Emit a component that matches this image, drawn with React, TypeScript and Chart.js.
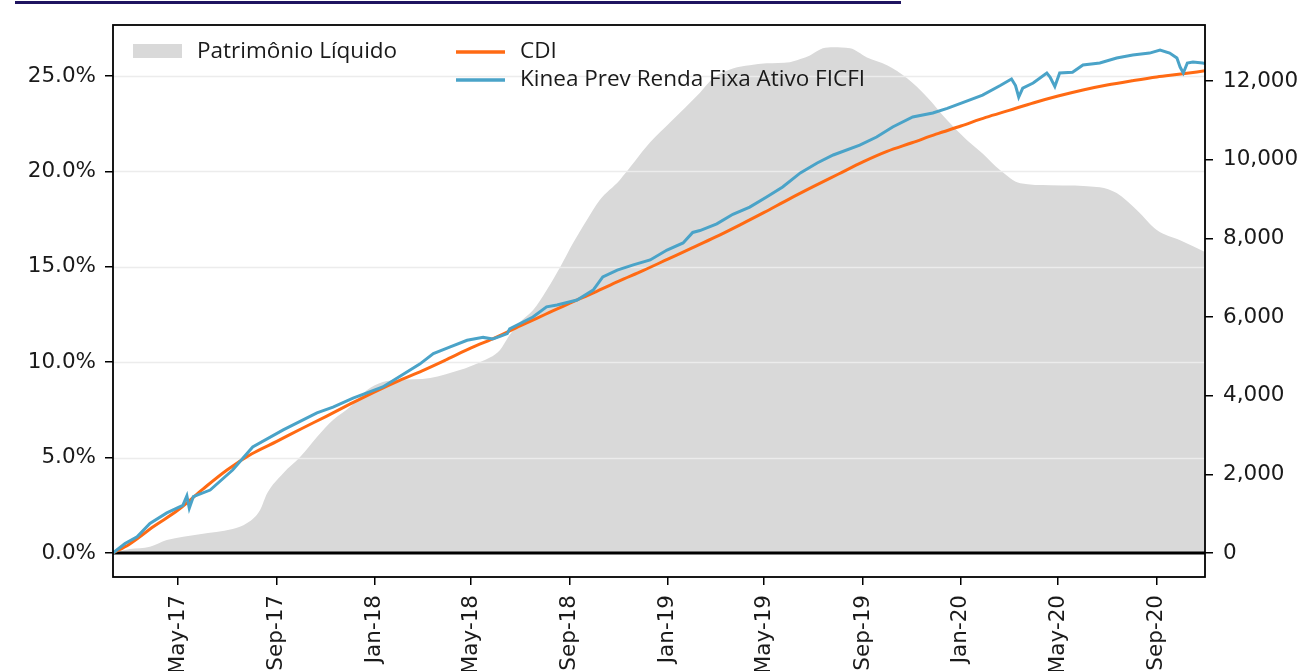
import React, { useEffect, useRef } from 'react';
import { Chart, registerables } from 'chart.js';

Chart.register(...registerables);

// ---------- data ----------
const plDates = [
  '2017-02-09', '2017-03-02', '2017-03-27', '2017-04-17', '2017-05-28', '2017-07-08', '2017-07-26',
  '2017-08-11', '2017-08-20', '2017-09-09', '2017-09-30', '2017-10-21', '2017-11-10', '2017-12-01',
  '2017-12-22', '2018-01-11', '2018-02-01', '2018-03-11', '2018-04-17', '2018-05-12', '2018-06-06',
  '2018-06-18', '2018-07-01', '2018-07-17', '2018-08-03', '2018-08-20', '2018-09-05', '2018-09-22',
  '2018-10-08', '2018-11-02', '2018-12-10', '2019-01-04', '2019-02-10', '2019-02-27', '2019-03-23',
  '2019-04-13', '2019-05-04', '2019-06-02', '2019-06-15', '2019-06-27', '2019-07-13', '2019-07-26',
  '2019-08-16', '2019-09-06', '2019-10-01', '2019-10-26', '2019-11-20', '2019-12-15', '2020-01-09',
  '2020-01-28', '2020-02-19', '2020-03-15', '2020-04-21', '2020-06-22', '2020-07-13', '2020-08-07',
  '2020-09-01', '2020-09-30', '2020-10-31',
];
const plValues = [
  0, 100, 160, 330, 480, 610, 760,
  1090, 1520, 2030, 2440, 2950, 3380, 3710,
  4140, 4350, 4400, 4450, 4650, 4850, 5160,
  5540, 5870, 6170, 6680, 7270, 7880, 8460,
  8970, 9480, 10440, 10950, 11700, 12080, 12320,
  12400, 12450, 12480, 12560, 12650, 12830, 12860,
  12830, 12600, 12400, 12070, 11590, 11000, 10490,
  10160, 9730, 9400, 9350, 9300, 9150, 8720,
  8210, 7950, 7650,
];

const cdiDates = [
  '2017-02-09', '2017-03-01', '2017-04-01', '2017-05-01', '2017-06-01', '2017-07-01', '2017-08-01',
  '2017-09-01', '2017-10-01', '2017-11-01', '2017-12-01', '2018-01-01', '2018-02-01', '2018-03-01',
  '2018-04-01', '2018-05-01', '2018-06-01', '2018-07-01', '2018-08-01', '2018-09-01', '2018-10-01',
  '2018-11-01', '2018-12-01', '2019-01-01', '2019-02-01', '2019-03-01', '2019-04-01', '2019-05-01',
  '2019-06-01', '2019-07-01', '2019-08-01', '2019-09-01', '2019-10-01', '2019-11-01', '2019-12-01',
  '2020-01-01', '2020-02-01', '2020-03-01', '2020-04-01', '2020-05-01', '2020-06-01', '2020-07-01',
  '2020-08-01', '2020-09-01', '2020-10-01', '2020-10-31',
];
const cdiValues = [
  0, 0.45, 1.4, 2.25, 3.35, 4.35, 5.2,
  5.85, 6.5, 7.15, 7.8, 8.45, 9.05, 9.55,
  10.15, 10.75, 11.3, 11.9, 12.5, 13.1, 13.65,
  14.25, 14.8, 15.4, 16.0, 16.55, 17.2, 17.85,
  18.55, 19.2, 19.85, 20.5, 21.05, 21.5, 21.95,
  22.38, 22.83, 23.2, 23.6, 23.95, 24.27, 24.53,
  24.75, 24.95, 25.1, 25.27,
];

const fundDates = [
  '2017-02-09', '2017-02-24', '2017-03-11', '2017-03-27', '2017-04-17', '2017-05-07', '2017-05-12',
  '2017-05-15', '2017-05-20', '2017-06-10', '2017-07-08', '2017-07-21', '2017-08-02', '2017-09-09',
  '2017-10-21', '2017-11-10', '2017-12-05', '2018-01-11', '2018-02-01', '2018-02-26', '2018-03-15',
  '2018-04-05', '2018-04-26', '2018-05-16', '2018-05-28', '2018-06-06', '2018-06-15', '2018-06-18',
  '2018-07-17', '2018-08-03', '2018-08-16', '2018-09-10', '2018-09-30', '2018-10-12', '2018-10-30',
  '2018-11-19', '2018-12-10', '2018-12-31', '2019-01-20', '2019-02-01', '2019-02-10', '2019-03-03',
  '2019-03-23', '2019-04-13', '2019-05-04', '2019-05-24', '2019-06-15', '2019-07-06', '2019-07-26',
  '2019-08-28', '2019-09-18', '2019-10-08', '2019-11-02', '2019-11-27', '2019-12-15', '2020-01-09',
  '2020-01-28', '2020-02-19', '2020-03-04', '2020-03-09', '2020-03-13', '2020-03-18', '2020-03-31',
  '2020-04-17', '2020-04-21', '2020-04-27', '2020-05-03', '2020-05-19', '2020-06-01', '2020-06-22',
  '2020-07-13', '2020-08-02', '2020-08-23', '2020-09-05', '2020-09-17', '2020-09-26', '2020-09-30',
  '2020-10-04', '2020-10-09', '2020-10-16', '2020-10-28', '2020-10-31',
];
const fundValues = [
  0.0, 0.5, 0.85, 1.55, 2.1, 2.5, 3.0,
  2.35, 2.95, 3.3, 4.35, 4.98, 5.56, 6.45,
  7.34, 7.65, 8.12, 8.7, 9.25, 9.9, 10.45,
  10.8, 11.15, 11.3, 11.22, 11.35, 11.5, 11.75,
  12.37, 12.9, 13.0, 13.26, 13.78, 14.47, 14.83,
  15.1, 15.36, 15.88, 16.25, 16.8, 16.9, 17.25,
  17.75, 18.13, 18.66, 19.18, 19.92, 20.44, 20.86,
  21.38, 21.8, 22.33, 22.85, 23.06, 23.3, 23.7,
  24.0, 24.5, 24.84, 24.5, 23.9, 24.37, 24.63,
  25.16, 24.95, 24.45, 25.16, 25.2, 25.58, 25.68,
  25.94, 26.1, 26.2, 26.36, 26.2, 25.94, 25.47,
  25.16, 25.68, 25.73, 25.68, 25.65,
];

const xTickDates = [
  '2017-05-01', '2017-09-01', '2018-01-01', '2018-05-01', '2018-09-01', '2019-01-01',
  '2019-05-01', '2019-09-01', '2020-01-01', '2020-05-01', '2020-09-01',
];
const xTickLabels = [
  'May-17', 'Sep-17', 'Jan-18', 'May-18', 'Sep-18', 'Jan-19',
  'May-19', 'Sep-19', 'Jan-20', 'May-20', 'Sep-20',
];
const leftTicks = [0, 5, 10, 15, 20, 25];
const rightTicks = [0, 2000, 4000, 6000, 8000, 10000, 12000];

const xStart = '2017-02-09';
const xEnd = '2020-10-31';

const legendLabels = ['Patrimônio Líquido', 'CDI', 'Kinea Prev Renda Fixa Ativo FICFI'];

// ---------- styles ----------
const GRAY = '#d9d9d9';
const ORANGE = '#ff6a13';
const BLUE = '#4aa3c8';
const TICK_FONT = { family: '"DejaVu Sans", sans-serif', size: 21.5 };
const TEXT = '#1a1a1a';

const toDay = (s: string) => {
  const [y, m, d] = s.split('-').map(Number);
  return Date.UTC(y, m - 1, d) / 86400000;
};

const gridPlugin = {
  id: 'gridAndZero',
  afterDatasetDraw(chart: any, args: any) {
    if (args.index !== 2) return;
    const { ctx, chartArea } = chart;
    const y = chart.scales.y;
    ctx.save();
    ctx.strokeStyle = 'rgba(236,236,236,1)';
    ctx.lineWidth = 1.5;
    leftTicks.forEach((v) => {
      if (v === 0) return;
      const py = Math.round(y.getPixelForValue(v)) + 0.5;
      ctx.beginPath();
      ctx.moveTo(chartArea.left, py);
      ctx.lineTo(chartArea.right, py);
      ctx.stroke();
    });
    const zy = y.getPixelForValue(0);
    ctx.strokeStyle = '#000';
    ctx.lineWidth = 3;
    ctx.beginPath();
    ctx.moveTo(chartArea.left, zy);
    ctx.lineTo(chartArea.right, zy);
    ctx.stroke();
    ctx.restore();
  },
};

const framePlugin = {
  id: 'frameLegend',
  afterDatasetsDraw(chart: any) {
    const { ctx, chartArea } = chart;
    ctx.save();
    // frame
    ctx.strokeStyle = '#000';
    ctx.lineWidth = 1.8;
    ctx.strokeRect(chartArea.left, chartArea.top, chartArea.right - chartArea.left, chartArea.bottom - chartArea.top);
    // legend
    ctx.font = '22.5px "Open Sans", sans-serif';
    ctx.textBaseline = 'middle';
    ctx.textAlign = 'left';
    ctx.fillStyle = GRAY;
    ctx.fillRect(133, 44, 49, 14);
    ctx.fillStyle = TEXT;
    ctx.fillText(legendLabels[0], 197, 52);
    ctx.lineWidth = 3.5;
    ctx.strokeStyle = ORANGE;
    ctx.beginPath();
    ctx.moveTo(456, 52);
    ctx.lineTo(505, 52);
    ctx.stroke();
    ctx.fillText(legendLabels[1], 520, 52);
    ctx.strokeStyle = BLUE;
    ctx.beginPath();
    ctx.moveTo(456, 80);
    ctx.lineTo(505, 80);
    ctx.stroke();
    ctx.fillText(legendLabels[2], 520, 80);
    ctx.restore();
  },
};

export default function App() {
  const ref = useRef<HTMLCanvasElement | null>(null);

  useEffect(() => {
    document.body.style.margin = '0';
    const canvas = ref.current;
    if (!canvas) return;

    const chart = new Chart(canvas, {
      type: 'line',
      data: {
        datasets: [
          {
            label: legendLabels[2],
            data: fundDates.map((d, i) => ({ x: toDay(d), y: fundValues[i] })),
            yAxisID: 'y',
            borderColor: BLUE,
            borderWidth: 3,
            pointRadius: 0,
            fill: false,
            order: 1,
          },
          {
            label: legendLabels[1],
            data: cdiDates.map((d, i) => ({ x: toDay(d), y: cdiValues[i] })),
            yAxisID: 'y',
            borderColor: ORANGE,
            borderWidth: 3,
            pointRadius: 0,
            fill: false,
            cubicInterpolationMode: 'monotone',
            order: 2,
          },
          {
            label: legendLabels[0],
            data: plDates.map((d, i) => ({ x: toDay(d), y: plValues[i] })),
            yAxisID: 'y2',
            borderWidth: 0,
            borderColor: GRAY,
            backgroundColor: GRAY,
            pointRadius: 0,
            fill: 'origin',
            cubicInterpolationMode: 'monotone',
            order: 3,
          },
        ],
      },
      options: {
        animation: false,
        responsive: false,
        devicePixelRatio: 1,
        layout: { padding: { top: 25, left: 0, right: 0, bottom: 0 } },
        plugins: { legend: { display: false }, tooltip: { enabled: false } },
        scales: {
          x: {
            type: 'linear',
            min: toDay(xStart),
            max: toDay(xEnd),
            afterBuildTicks: (s: any) => {
              s.ticks = xTickDates.map((d) => ({ value: toDay(d) }));
            },
            afterFit: (s: any) => {
              s.height = 94;
            },
            ticks: {
              callback: (_v: any, i: number) => xTickLabels[i],
              minRotation: 90,
              maxRotation: 90,
              autoSkip: false,
              font: TICK_FONT,
              color: TEXT,
              padding: 10,
            },
            grid: { drawOnChartArea: false, tickLength: 8, color: '#000', lineWidth: 1.5 },
            border: { display: false },
          },
          y: {
            position: 'left',
            min: -1.258,
            max: 27.673,
            afterBuildTicks: (s: any) => {
              s.ticks = leftTicks.map((v) => ({ value: v }));
            },
            afterFit: (s: any) => {
              s.width = 113;
            },
            ticks: {
              callback: (v: any) => Number(v).toFixed(1) + '%',
              font: TICK_FONT,
              color: TEXT,
              padding: 9,
            },
            grid: { drawOnChartArea: false, tickLength: 8, color: '#000', lineWidth: 1.5 },
            border: { display: false },
          },
          y2: {
            position: 'right',
            min: -610,
            max: 13424,
            afterBuildTicks: (s: any) => {
              s.ticks = rightTicks.map((v) => ({ value: v }));
            },
            afterFit: (s: any) => {
              s.width = 97;
            },
            ticks: {
              callback: (v: any) => Number(v).toLocaleString('en-US'),
              font: TICK_FONT,
              color: TEXT,
              padding: 10,
            },
            grid: { drawOnChartArea: false, tickLength: 8, color: '#000', lineWidth: 1.5 },
            border: { display: false },
          },
        },
      } as any,
      plugins: [gridPlugin, framePlugin],
    });

    return () => chart.destroy();
  }, []);

  return (
    <div style={{ position: 'relative', width: 1302, height: 671, overflow: 'hidden', background: '#fff' }}>
      <div
        style={{
          position: 'absolute',
          left: 15,
          top: 1,
          width: 886,
          height: 3,
          background: '#1f1460',
        }}
      />
      <canvas ref={ref} width={1302} height={671} style={{ display: 'block' }} />
    </div>
  );
}
